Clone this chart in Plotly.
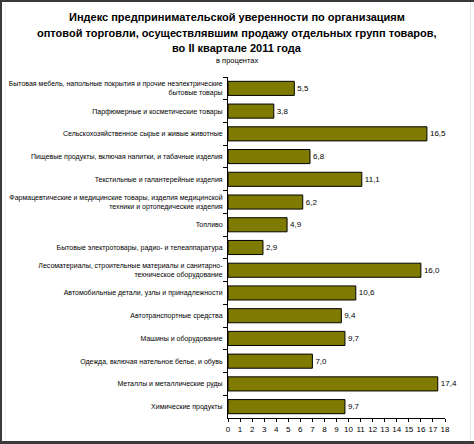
import plotly.graph_objects as go

categories = [
    "Бытовая мебель, напольные покрытия и прочие неэлектрические<br>бытовые товары",
    "Парфюмерные и косметические товары",
    "Сельскохозяйственное сырье и живые животные",
    "Пищевые продукты, включая напитки, и табачные изделия",
    "Текстильные и галантерейные изделия",
    "Фармацевтические и медицинские товары, изделия медицинской<br>техники и ортопедические изделия",
    "Топливо",
    "Бытовые электротовары, радио- и телеаппаратура",
    "Лесоматериалы, строительные материалы и санитарно-<br>техническое оборудование",
    "Автомобильные детали, узлы и принадлежности",
    "Автотранспортные средства",
    "Машины и оборудование",
    "Одежда, включая нательное белье, и обувь",
    "Металлы и металлические руды",
    "Химические продукты",
]
values = [5.5, 3.8, 16.5, 6.8, 11.1, 6.2, 4.9, 2.9, 16.0, 10.6, 9.4, 9.7, 7.0, 17.4, 9.7]
x_ticks = list(range(0, 19))

title_lines = [
    "Индекс предпринимательской уверенности по организациям",
    "оптовой торговли, осуществлявшим продажу отдельных групп товаров,",
    "во II квартале 2011 года",
]
subtitle = "в процентах"

labels = [f"{v:.1f}".replace(".", ",") for v in values]

W, H = 474, 444
L, R, T, B = 228, 29, 77, 26
plot_w = W - L - R
plot_h = H - T - B


def px(xp):
    return (xp - L) / plot_w


def py(yp):
    return (H - B - yp) / plot_h


fig = go.Figure(go.Bar(
    x=values, y=categories, orientation="h",
    marker=dict(color="#7f7a00", line=dict(color="#000000", width=1)),
    text=labels, textposition="outside", cliponaxis=False,
    textfont=dict(family="Liberation Sans, Arial", size=8, color="#000"),
    width=0.62,
))

fig.update_layout(
    width=W, height=H,
    margin=dict(l=L, r=R, t=T, b=B),
    paper_bgcolor="white", plot_bgcolor="white",
    showlegend=False,
    font=dict(family="Liberation Sans, Arial", color="#000"),
    xaxis=dict(range=[0, 18], tickvals=x_ticks, ticktext=[str(t) for t in x_ticks],
               showgrid=False, zeroline=False, showline=True, linecolor="#000",
               linewidth=1, ticks="outside", ticklen=3, tickcolor="#000",
               tickfont=dict(size=8), fixedrange=True, automargin=False),
    yaxis=dict(categoryorder="array", categoryarray=categories, autorange="reversed",
               showgrid=False, showline=True, linecolor="#000", linewidth=1,
               ticks="outside", ticklen=4, tickcolor="#000", tickson="boundaries",
               tickfont=dict(size=7), ticklabelstandoff=3, automargin=False),
)

anns = []
for line, yy in zip(title_lines, [17, 33, 48]):
    anns.append(dict(text=f"<b>{line}</b>", x=px(237), y=py(yy),
                     xref="paper", yref="paper", showarrow=False, xanchor="center",
                     yanchor="middle", font=dict(size=11, family="Liberation Sans, Arial")))
anns.append(dict(text=subtitle, x=px(237), y=py(60),
                 xref="paper", yref="paper", showarrow=False, xanchor="center",
                 yanchor="middle", font=dict(size=7.5, family="Liberation Sans, Arial")))
fig.layout.annotations = anns

# frame around the image
dark = "#3a3a3a"
shapes = [
    dict(type="rect", x0=px(0), x1=px(W), y0=py(0), y1=py(2)),
    dict(type="rect", x0=px(0), x1=px(2), y0=py(0), y1=py(H)),
    dict(type="rect", x0=px(0), x1=px(W), y0=py(441), y1=py(H)),
]
for s in shapes:
    fig.add_shape(xref="paper", yref="paper", fillcolor=dark, line=dict(width=0),
                  layer="above", **s)
fig.add_shape(type="line", xref="paper", yref="paper", x0=px(470.5), x1=px(470.5),
              y0=py(2), y1=py(441), line=dict(color="#e4e4e4", width=1))
fig.add_shape(type="line", xref="paper", yref="paper", x0=px(5.5), x1=px(5.5),
              y0=py(4), y1=py(439), line=dict(color="#eeeeee", width=1))

fig.write_html("out.html")
